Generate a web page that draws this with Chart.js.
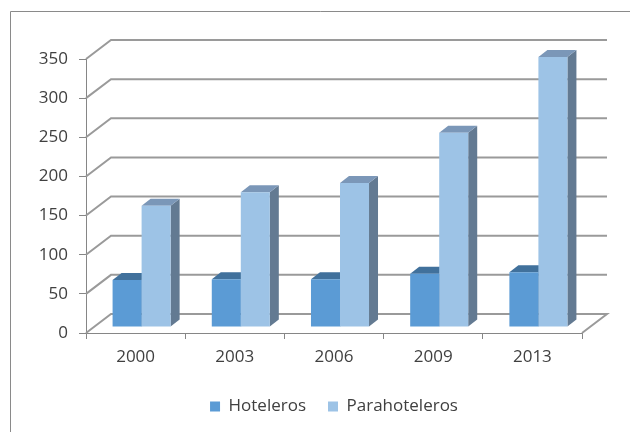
<!DOCTYPE html>
<html>
<head>
<meta charset="utf-8">
<script src="https://cdn.jsdelivr.net/npm/chart.js@4.4.1/dist/chart.umd.min.js"></script>
<style>
  body { margin: 0; background: #fff; }
  canvas { display: block; }
</style>
</head>
<body>
<canvas id="myChart" width="630" height="432"></canvas>
<script>
let years = ["2000", "2003", "2006", "2009", "2013"];
let hoteleros = [60, 61, 61, 68, 70];
let parahoteleros = [155, 172, 184, 248, 345];
let yTicks = [0, 50, 100, 150, 200, 250, 300, 350];

// 3d look: back wall offset, bar plane offset, bar depth
let wallX = 25, wallY = -19;
let barX = 6, barY = -6;
let faceX = 9, faceY = -7;
let gridColor = "#9a9a9a";
let axisColor = "#868686";
let textColor = "#404040";

let fake3d = {
  id: "fake3d",
  beforeDraw: function(chart) {
    let ctx = chart.ctx;
    ctx.save();
    ctx.strokeStyle = "#8a8a8a";
    ctx.lineWidth = 1;
    ctx.beginPath();
    ctx.moveTo(10.5, 432);
    ctx.lineTo(10.5, 11.5);
    ctx.lineTo(630, 11.5);
    ctx.stroke();
    ctx.restore();
  },
  beforeDatasetsDraw: function(chart) {
    let ctx = chart.ctx;
    let a = chart.chartArea;
    let y = chart.scales.y;

    // back wall grid + side wall diagonals
    ctx.save();
    ctx.strokeStyle = gridColor;
    ctx.lineWidth = 2;
    y.ticks.forEach(function(t) {
      let py = y.getPixelForValue(t.value);
      ctx.beginPath();
      ctx.moveTo(a.left, py);
      ctx.lineTo(a.left + wallX, py + wallY);
      ctx.lineTo(a.right + wallX, py + wallY);
      if (t.value === 0) ctx.lineTo(a.right, py);
      ctx.stroke();
    });
    ctx.restore();

    // side and top faces, bars themselves are drawn by chart.js after this
    ctx.save();
    ctx.translate(barX, barY);
    chart.data.datasets.forEach(function(ds, i) {
      chart.getDatasetMeta(i).data.forEach(function(bar) {
        let p = bar.getProps(["x", "y", "base", "width"], true);
        let l = p.x - p.width / 2;
        let r = p.x + p.width / 2;
        ctx.fillStyle = ds.sideColor;
        ctx.beginPath();
        ctx.moveTo(r, p.y);
        ctx.lineTo(r + faceX, p.y + faceY);
        ctx.lineTo(r + faceX, p.base + faceY);
        ctx.lineTo(r, p.base);
        ctx.closePath();
        ctx.fill();
        ctx.fillStyle = ds.topColor;
        ctx.beginPath();
        ctx.moveTo(l, p.y);
        ctx.lineTo(l + faceX, p.y + faceY);
        ctx.lineTo(r + faceX, p.y + faceY);
        ctx.lineTo(r, p.y);
        ctx.closePath();
        ctx.fill();
      });
    });
  },
  afterDatasetsDraw: function(chart) {
    chart.ctx.restore();
  }
};

new Chart("myChart", {
  type: "bar",
  data: {
    labels: years,
    datasets: [{
      label: "Hoteleros",
      data: hoteleros,
      backgroundColor: "#5b9bd5",
      topColor: "#41719c",
      sideColor: "#3b6690",
      borderWidth: 0,
      categoryPercentage: 0.585,
      barPercentage: 1
    }, {
      label: "Parahoteleros",
      data: parahoteleros,
      backgroundColor: "#9dc3e6",
      topColor: "#7b97b8",
      sideColor: "#637a92",
      borderWidth: 0,
      categoryPercentage: 0.585,
      barPercentage: 1
    }]
  },
  options: {
    responsive: false,
    animation: false,
    layout: { padding: { top: 59, right: 48, left: 0, bottom: 7 } },
    plugins: {
      tooltip: { enabled: false },
      legend: {
        position: "bottom",
        fullSize: false,
        labels: {
          boxWidth: 10,
          boxHeight: 10,
          padding: 22,
          color: textColor,
          font: { family: "'Open Sans'", size: 17 }
        }
      }
    },
    scales: {
      x: {
        offset: true,
        afterFit: function(s) { s.height = 43; },
        grid: { offset: true, drawOnChartArea: false, tickLength: 6, color: axisColor },
        border: { color: axisColor },
        ticks: { color: textColor, padding: 8, font: { family: "'Open Sans'", size: 17 } }
      },
      y: {
        min: 0,
        max: 350,
        afterFit: function(s) { s.width = 86; },
        afterBuildTicks: function(s) { s.ticks = yTicks.map(function(v) { return { value: v }; }); },
        grid: { drawOnChartArea: false, tickLength: 7, color: axisColor },
        border: { color: axisColor },
        ticks: { color: textColor, padding: 11, font: { family: "'Open Sans'", size: 17 } }
      }
    }
  },
  plugins: [fake3d]
});
</script>
</body>
</html>
